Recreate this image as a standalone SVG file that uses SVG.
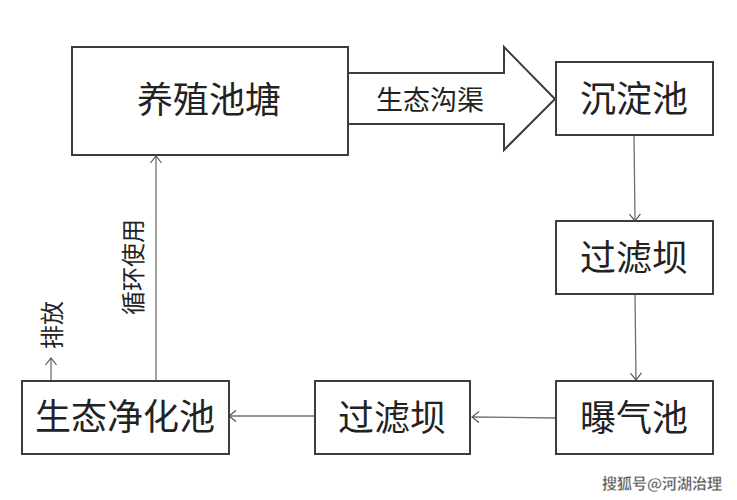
<svg xmlns="http://www.w3.org/2000/svg" width="737" height="500" viewBox="0 0 737 500">
<defs>
<marker id="arr" markerWidth="12" markerHeight="12" refX="10" refY="6" orient="auto" markerUnits="userSpaceOnUse"><path d="M3 0.5L10 6L3 11.5" fill="none" stroke="#555" stroke-width="1.2"/></marker>
</defs>
<style>
text{font-family:"Noto Sans CJK SC","Liberation Sans",sans-serif;fill:#222;text-anchor:middle}
.box{fill:#fff;stroke:#3c3c3c;stroke-width:2}
.c{fill:none;stroke:#707070;stroke-width:1.3;marker-end:url(#arr)}
.n{font-size:36px}
.l{font-size:24px}
</style>
<rect width="737" height="500" fill="#fff"/>
<g id="connectors">
<path class="c" d="M156 382V156"/>
<path class="c" d="M51 380V358"/>
<path class="c" d="M634 136L635 221"/>
<path class="c" d="M635 295L636 380"/>
<path class="c" d="M556 418L472 417"/>
<path class="c" d="M314 416L229 416"/>
</g>
<g id="channel">
<path d="M348 73H504V47L555 99L504 150V124H348Z" fill="#fff" stroke="#3c3c3c" stroke-width="2"/>
<text x="430" y="110" style="font-size:27px">生态沟渠</text>
</g>
<g id="pond"><rect class="box" x="72" y="47" width="276" height="108"/><text class="n" x="209" y="113">养殖池塘</text></g>
<g id="settle"><rect class="box" x="556" y="62" width="157" height="73"/><text class="n" x="634" y="112">沉淀池</text></g>
<g id="dam1"><rect class="box" x="556" y="221" width="157" height="73"/><text class="n" x="634" y="271">过滤坝</text></g>
<g id="aerate"><rect class="box" x="556" y="381" width="157" height="73"/><text class="n" x="634" y="431">曝气池</text></g>
<g id="dam2"><rect class="box" x="315" y="381" width="155" height="73"/><text class="n" x="392" y="431">过滤坝</text></g>
<g id="purify"><rect class="box" x="22" y="381" width="207" height="73"/><text class="n" x="125" y="430" style="letter-spacing:0">生态净化池</text></g>
<text class="l" transform="translate(142 267) rotate(-90)">循环使用</text>
<text class="l" transform="translate(61 325) rotate(-90)">排放</text>
<text x="662" y="489" style="font-size:15px;font-weight:700;fill:#555;stroke:#fff;stroke-width:.3">搜狐号@河湖治理</text>
</svg>
